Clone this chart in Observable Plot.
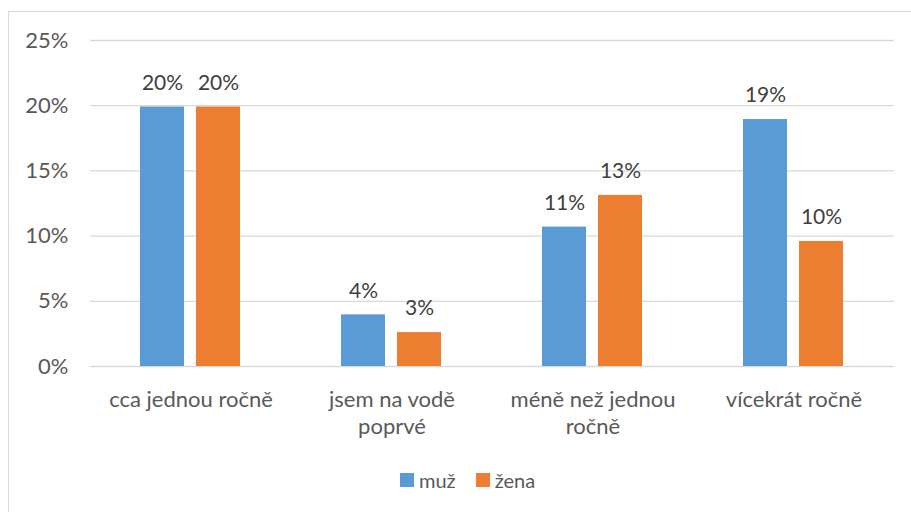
<!DOCTYPE html>
<html>
<head>
<meta charset="utf-8">
<script src="https://cdn.jsdelivr.net/npm/d3@7"></script>
<script src="https://cdn.jsdelivr.net/npm/@observablehq/plot@0.6"></script>
<style>
  html, body { margin: 0; padding: 0; background: #fff; overflow: hidden; }
  #frame { position: absolute; left: 8px; top: 11px; width: 1200px; height: 1200px;
           border-left: 1px solid #d9d9d9; border-top: 1px solid #d9d9d9; box-sizing: border-box; }
  #chart { position: absolute; left: 0; top: 0; }
  #legend { position: absolute; left: 400px; top: 463px; }
  #legend svg { margin-right: 5px !important; }
</style>
</head>
<body>
<div id="frame"></div>
<div id="chart"></div>
<div id="legend"></div>
<script>
const categories = ["cca jednou ročně", "jsem na vodě poprvé", "méně než jednou ročně", "vícekrát ročně"];
const categoryLabels = ["cca jednou ročně", "jsem na vodě\npoprvé", "méně než jednou\nročně", "vícekrát ročně"];
const series = ["muž", "žena"];
const muz = [19.9, 3.96, 10.69, 18.94];
const zena = [19.9, 2.6, 13.12, 9.59];
const yTicks = [0, 5, 10, 15, 20, 25];
const colors = ["#5b9bd5", "#ed7d31"];

const data = categories.flatMap((c, i) => [
  {cat: c, s: series[0], v: muz[i]},
  {cat: c, s: series[1], v: zena[i]}
]);

const chart = Plot.plot({
  width: 911,
  height: 512,
  marginLeft: 89,
  marginRight: 17,
  marginTop: 40,
  marginBottom: 146,
  style: {fontFamily: "Lato, 'Open Sans', sans-serif", fontSize: "21px", background: "transparent"},
  fx: {domain: categories, padding: 0, axis: null},
  x: {domain: series, paddingInner: 0.21, paddingOuter: 0.87, axis: null},
  y: {domain: [0, 25], axis: null},
  color: {domain: series, range: colors},
  marks: [
    Plot.ruleY(yTicks, {stroke: "#d9d9d9", strokeWidth: 1.3}),
    Plot.barY(data, {fx: "cat", x: "s", y: "v", fill: "s"}),
    Plot.text(data, {fx: "cat", x: "s", y: "v", text: d => Math.round(d.v) + "%", dy: -24,
                     fill: "#404040", fontSize: 21}),
    Plot.axisY({ticks: yTicks, tickSize: 0, tickPadding: 22, tickFormat: d => d + "%",
                color: "#595959", label: null, fontSize: 22}),
    Plot.axisFx({anchor: "bottom", tickSize: 0, tickPadding: 21, label: null, lineHeight: 1.24,
                 fontSize: 22, tickFormat: d => categoryLabels[categories.indexOf(d)], color: "#595959"})
  ]
});
document.getElementById("chart").appendChild(chart);

const leg = chart.legend("color", {swatchSize: 14});
leg.style.fontFamily = "Lato, 'Open Sans', sans-serif";
leg.style.fontSize = "20px";
leg.style.color = "#595959";
document.getElementById("legend").appendChild(leg);
</script>
</body>
</html>
